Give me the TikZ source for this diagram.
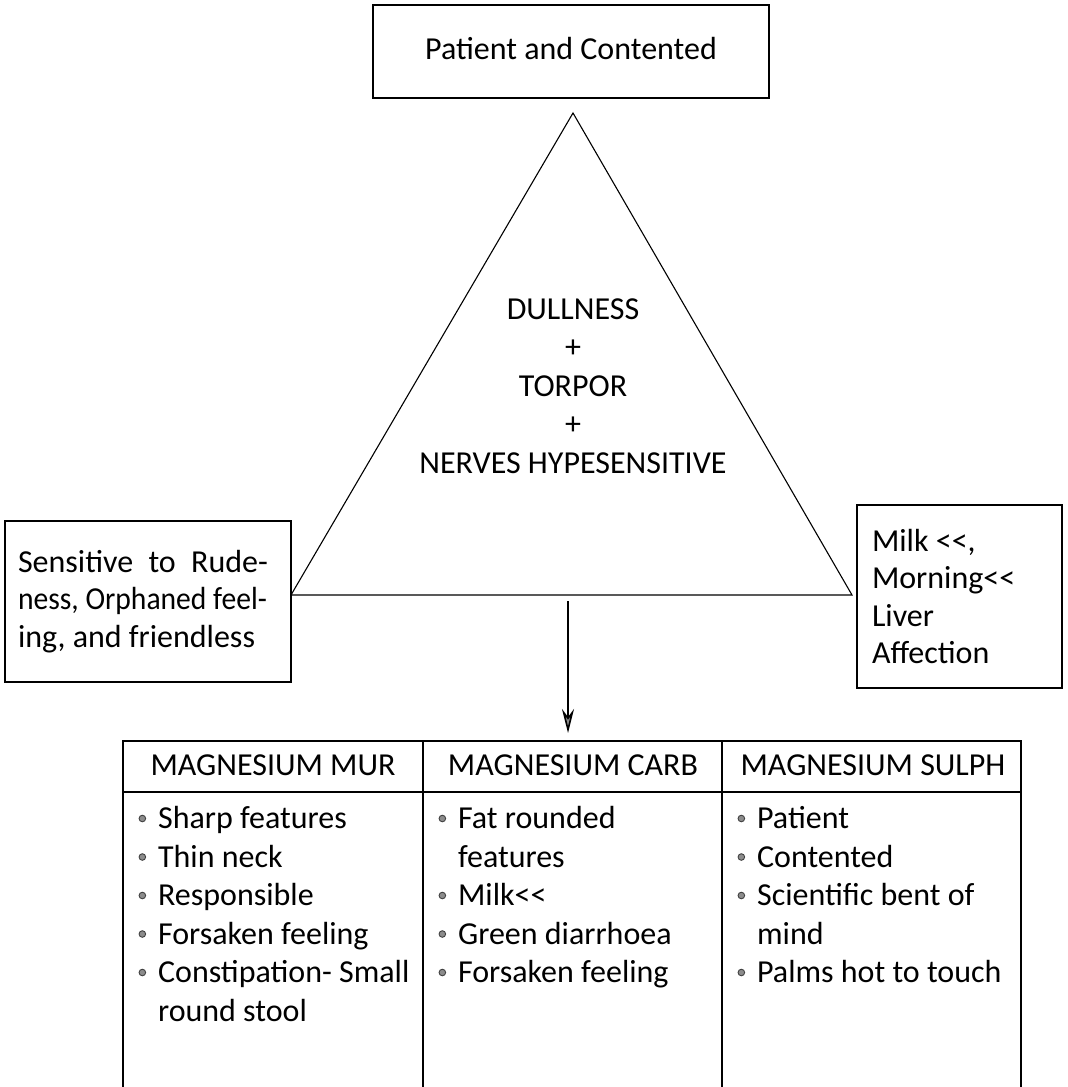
\documentclass[tikz,border=0pt]{standalone}
\usepackage{fontspec}
\setmainfont{Carlito}
\usepackage{graphicx}
\usepackage{tikz}
\usetikzlibrary{arrows.meta}
\tikzset{
    box/.style={draw, line width=1.8pt, inner sep=0pt, font=\fontsize{32}{37.5}\selectfont},
    txt/.style={inner sep=0pt, font=\fontsize{32}{38.5}\selectfont},
    tabline/.style={line width=2pt},
}
\newcommand{\blt}{\makebox[19.5pt][l]{\tikz[baseline=-10pt]\draw[draw=black!75,fill=black!45,line width=0.9pt] (0,0) circle (3.3pt);}}
\newcommand{\ind}{\hspace*{19.5pt}}

\begin{document}
\begin{tikzpicture}[x=1pt,y=-1pt]

        \useasboundingbox (0,0) rectangle (1068,1087);

        %boxes
        \node[box, minimum width=396pt, minimum height=93pt, text height=21pt, text depth=6pt] (top) at (571,51.5) {Patient and Contented};
        \node[box, align=left, minimum width=286pt, minimum height=161pt] (left) at (148,601.5)
            {\makebox[260pt][l]{\makebox[250pt][s]{Sensitive to Rude-}}\\\scalebox{0.925}[1]{ness, Orphaned feel-}\\ing, and friendless};
        \node[box, align=left, minimum width=205pt, minimum height=183pt] (right) at (959.5,596.5)
            {\makebox[175pt][l]{Milk <{}<,}\\Morning<{}<\\Liver\\Affection};

        %triangle
        \coordinate (apex) at (573,113);
        \coordinate (tl) at (291,595);
        \coordinate (tr) at (852,595);
        \draw[line width=1.1pt] (apex) -- (tl) -- (tr) -- cycle;
        \node[txt, align=center] (core) at (573,386) {DULLNESS\\+\\TORPOR\\+\\NERVES HYPESENSITIVE};

        %arrow
        \coordinate (arrS) at (568,601);
        \coordinate (arrE) at (568,733);
        \draw[-{Stealth[length=24pt,width=12pt,inset=8pt,fill=black!45]}, line width=1.6pt] (arrS) -- (arrE);

        %table
        \draw[tabline] (123,1087) -- (123,741) -- (1021,741) -- (1021,1087);
        \draw[tabline] (123,792) -- (1021,792);
        \foreach \cx in {423,722}
            \draw[tabline] (\cx,741) -- (\cx,1087);
        \foreach \hd/\cx [count=\i] in {MAGNESIUM MUR/273,MAGNESIUM CARB/573,MAGNESIUM SULPH/873}
            \node[txt, anchor=base] (head\i) at (\cx,775) {\hd};

        %columns
        \foreach \b/\t [count=\i] in {1/Sharp features,1/Thin neck,1/Responsible,1/Forsaken feeling,1/Constipation- Small,0/round stool}
            \node[txt, anchor=base west] (mur\i) at (138.4,790+38.5*\i) {\ifnum\b=1 \blt\else\ind\fi\t};
        \foreach \b/\t [count=\i] in {1/Fat rounded,0/features,1/Milk<{}<,1/Green diarrhoea,1/Forsaken feeling}
            \node[txt, anchor=base west] (carb\i) at (438.4,790+38.5*\i) {\ifnum\b=1 \blt\else\ind\fi\t};
        \foreach \b/\t [count=\i] in {1/Patient,1/Contented,1/Scientific bent of,0/mind,1/Palms hot to touch}
            \node[txt, anchor=base west] (sulph\i) at (737.4,790+38.5*\i) {\ifnum\b=1 \blt\else\ind\fi\t};

\end{tikzpicture}
\end{document}
